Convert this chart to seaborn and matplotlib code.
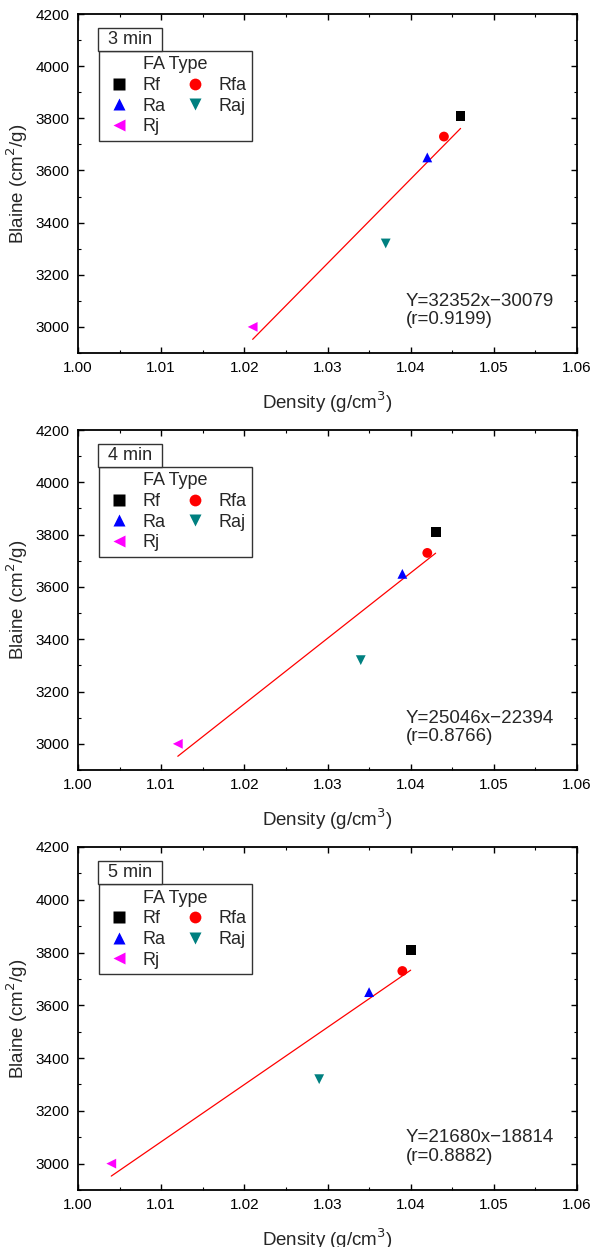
import numpy as np
import pandas as pd
import matplotlib
matplotlib.use("Agg")
import matplotlib.pyplot as plt
from matplotlib.ticker import MultipleLocator, FormatStrFormatter
from matplotlib.patches import Rectangle
import seaborn as sns

sns.set_theme(style="ticks")
plt.rcParams['font.family'] = ['Liberation Sans', 'DejaVu Sans']

# FA types and their Blaine fineness (cm2/g)
fa_types = ["Rf", "Rfa", "Ra", "Raj", "Rj"]
blaine = [3810, 3730, 3650, 3320, 3000]

# Density (g/cm3) per grinding time
density_3min = [1.046, 1.044, 1.042, 1.037, 1.021]
density_4min = [1.043, 1.042, 1.039, 1.034, 1.012]
density_5min = [1.040, 1.039, 1.035, 1.029, 1.004]

# Linear fits: slope, intercept, correlation coefficient
fit_3min = (32352, -30079, 0.9199)
fit_4min = (25046, -22394, 0.8766)
fit_5min = (21680, -18814, 0.8882)

panels = [
    ("3 min", density_3min, fit_3min),
    ("4 min", density_4min, fit_4min),
    ("5 min", density_5min, fit_5min),
]

markers = {"Rf": "s", "Rfa": "o", "Ra": "^", "Raj": "v", "Rj": "<"}
palette = {"Rf": "#000000", "Rfa": "#ff0000", "Ra": "#0000ff",
           "Raj": "#008080", "Rj": "#ff00ff"}
# legend fills column-first; this order reads row-wise as Rf Rfa / Ra Raj / Rj
legend_order = ["Rf", "Ra", "Rj", "Rfa", "Raj"]

W, H = 592, 1247
fig = plt.figure(figsize=(W / 100, H / 100), dpi=100)
# axes boxes in pixels: left, top, right, bottom
boxes = [(78, 14, 577, 353), (78, 430, 577, 770), (78, 847, 577, 1190)]

for (label, dens, (slope, icpt, r)), (x0, y0, x1, y1) in zip(panels, boxes):
    ax = fig.add_axes([x0 / W, 1 - y1 / H, (x1 - x0) / W, (y1 - y0) / H])
    df = pd.DataFrame({"Density": dens, "Blaine": blaine, "FA Type": fa_types})
    sns.scatterplot(data=df, x="Density", y="Blaine", hue="FA Type",
                    style="FA Type", markers=markers, palette=palette,
                    s=50, edgecolor="none", ax=ax, zorder=3)
    xs = np.array([min(dens), max(dens)])
    ax.plot(xs, slope * xs + icpt, color="#ff0000", lw=0.9, zorder=2)

    ax.set_xlim(1.00, 1.06)
    ax.set_ylim(2900, 4200)
    ax.xaxis.set_major_locator(MultipleLocator(0.01))
    ax.xaxis.set_minor_locator(MultipleLocator(0.005))
    ax.yaxis.set_major_locator(MultipleLocator(200))
    ax.yaxis.set_minor_locator(MultipleLocator(100))
    ax.xaxis.set_major_formatter(FormatStrFormatter("%.2f"))
    ax.tick_params(which="both", direction="in", top=True, right=True,
                   labelsize=11, colors="black")
    ax.tick_params(which="major", length=4, width=1, pad=6)
    ax.tick_params(which="minor", length=2, width=0.8)
    for sp in ax.spines.values():
        sp.set_linewidth(1.3)
        sp.set_color("black")

    ax.set_xlabel("Density (g/cm$^3$)", fontsize=13.5, labelpad=10)
    ax.set_ylabel("Blaine (cm$^2$/g)", fontsize=13.5, labelpad=4)

    # legend with its title box on top
    handles, labels = ax.get_legend_handles_labels()
    hmap = dict(zip(labels, handles))
    leg = ax.legend([hmap[k] for k in legend_order], legend_order,
                    title="FA Type", ncol=2, mode="expand",
                    loc="upper left", bbox_to_anchor=(0.042, 0.891, 0.307, 0.0),
                    borderaxespad=0.0,
                    fontsize=13, title_fontsize=13, frameon=True,
                    fancybox=False, edgecolor="#333333", framealpha=1,
                    handletextpad=0.5, columnspacing=0.8, labelspacing=0.2,
                    borderpad=0.3, handlelength=1.6, markerscale=1.2)
    leg.get_frame().set_linewidth(1)

    ax.add_patch(Rectangle((0.040, 0.891), 0.128, 0.068, transform=ax.transAxes,
                           fc="white", ec="#333333", lw=1, zorder=6,
                           clip_on=False))
    ax.text(0.104, 0.925, label, transform=ax.transAxes, fontsize=13,
            ha="center", va="center", zorder=7)

    ax.text(0.657, 0.177, f"Y={slope}x\u2212{abs(icpt)}\n(r={r:.4f})",
            transform=ax.transAxes, fontsize=13.5, ha="left", va="top",
            linespacing=1.1)

fig.savefig("out.png", dpi=100)
